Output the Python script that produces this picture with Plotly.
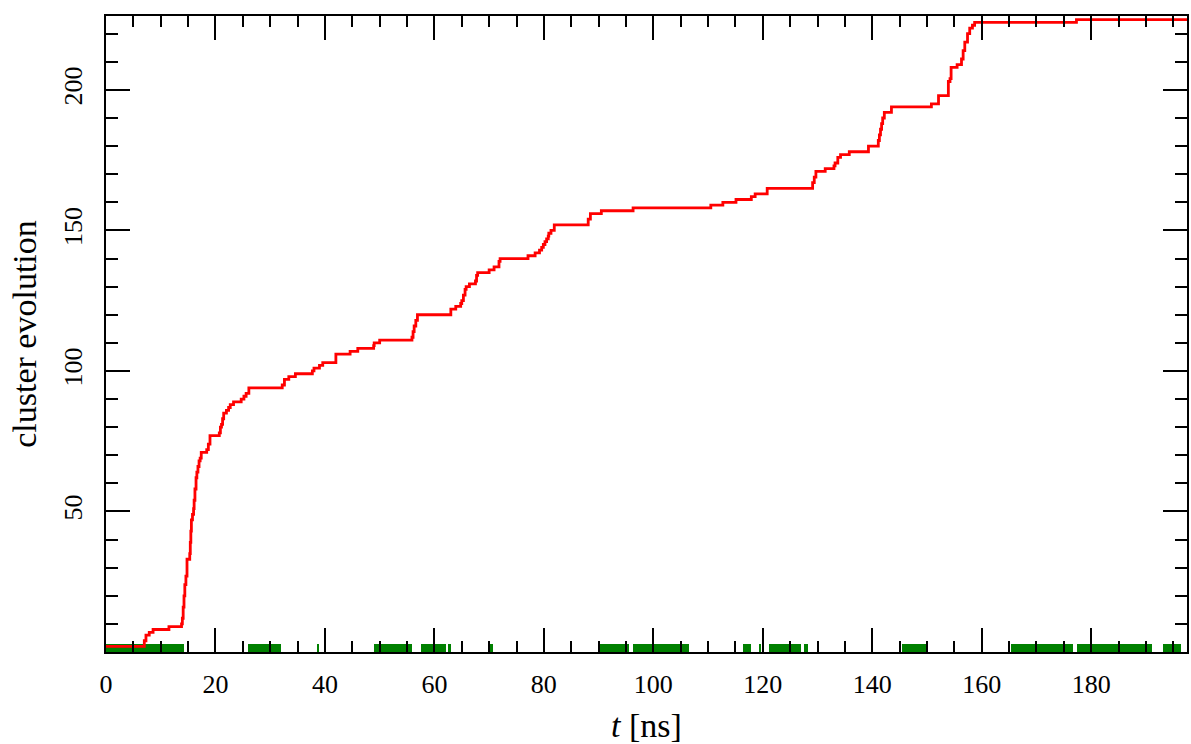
import plotly.graph_objects as go

# Cluster count over time (step function)
t_ns = [
    0.0, 7.0, 7.3, 7.9, 8.6, 11.5, 13.8, 13.95, 14.1, 14.25, 14.4, 14.6, 14.8,
    15.3, 15.4, 15.5, 15.6, 15.8, 16.0, 16.1, 16.25, 16.45, 16.6, 16.8, 17.0,
    17.2, 17.4, 18.4, 18.7, 19.0, 20.7, 20.9, 21.1, 21.3, 21.5, 22.0, 22.4,
    22.7, 23.3, 24.7, 25.2, 25.6, 26.1,
    32.2, 32.6, 33.4, 34.6, 37.7, 38.0, 39.0, 39.6, 42.0, 44.6, 46.0, 48.9,
    49.0, 50.0, 55.9, 56.1, 56.3, 56.6, 56.9, 63.0, 63.9, 64.8, 65.0, 65.3,
    65.6, 65.8, 66.4, 67.5, 67.7, 67.9, 70.0, 70.9, 71.8, 72.0, 77.1, 78.4,
    79.2, 79.6, 79.9, 80.2, 80.5, 80.8, 80.9, 81.3, 81.9, 88.1, 88.5, 90.5,
    96.3,
    110.5, 112.7, 115.1, 117.9, 118.6, 120.8, 129.1, 129.4, 129.7, 131.4,
    133.0, 133.2, 133.7, 134.2, 135.8, 139.3, 141.1, 141.3, 141.5, 141.7,
    141.9, 142.2, 143.5, 150.8, 152.1, 153.9, 154.2, 154.4, 155.5, 156.3,
    156.6, 156.9, 157.4, 157.8, 158.3, 158.7, 177.3, 197.5,
]
cluster_count = [
    2, 4, 6, 7, 8, 9, 10, 12, 16, 20, 24, 27, 33,
    35, 39, 43, 47, 49, 51, 54, 58, 62, 64, 66, 68,
    69, 71, 72, 74, 77, 78, 80, 81, 83, 85, 86, 87,
    88, 89, 90, 91, 92, 94,
    95, 97, 98, 99, 100, 101, 102, 103, 106, 107, 108, 109,
    110, 111, 112, 114, 116, 118, 120, 122, 123, 124, 125, 127,
    129, 130, 131, 132, 134, 135, 136, 137, 139, 140, 141, 142,
    143, 144, 145, 146, 147, 148, 149, 150, 152, 154, 156, 157,
    158,
    159, 160, 161, 162, 163, 165, 167, 169, 171, 172,
    173, 174, 176, 177, 178, 180, 182, 184, 186, 188,
    190, 192, 194, 195, 198, 203, 204, 208, 209, 211,
    214, 217, 220, 222, 223, 224, 225, 225,
]

# Time intervals marked along the bottom of the axis
interval_start = [0.0, 25.9, 38.6, 48.9, 57.6, 62.4, 70.1, 90.1, 96.3, 116.4,
                  119.4, 121.1, 127.6, 145.5, 165.3, 177.4, 193.1]
interval_end = [14.2, 31.9, 39.0, 55.9, 62.2, 63.0, 70.7, 95.5, 106.5, 117.8,
                119.7, 127.0, 128.2, 150.0, 176.7, 191.1, 196.4]

x_tick_vals = [0, 20, 40, 60, 80, 100, 120, 140, 160, 180]
y_tick_vals = [50, 100, 150, 200]

SERIF = "Liberation Serif, DejaVu Serif, serif"
BAND_HEIGHT = 3

centers = [(a + b) / 2 for a, b in zip(interval_start, interval_end)]
widths = [b - a for a, b in zip(interval_start, interval_end)]

fig = go.Figure()
fig.add_trace(go.Bar(
    x=centers, y=[BAND_HEIGHT] * len(centers), width=widths, base=0,
    marker=dict(color="green", line_width=0), showlegend=False,
    hoverinfo="skip",
))
fig.add_trace(go.Scatter(
    x=t_ns, y=cluster_count, mode="lines",
    line=dict(color="red", width=2.8, shape="hv"), showlegend=False,
))

axis_common = dict(
    showline=True, linewidth=2, linecolor="black", mirror="allticks",
    ticks="inside", tickwidth=2, tickcolor="black", ticklen=24,
    showgrid=False, zeroline=False,
    tickfont=dict(family=SERIF, size=26, color="black"),
)

fig.update_layout(
    width=1191, height=744,
    margin=dict(l=106, r=2, t=16, b=85),
    paper_bgcolor="white", plot_bgcolor="white",
    bargap=0,
    xaxis=dict(
        **axis_common,
        range=[0, 197.5],
        tickmode="array", tickvals=x_tick_vals,
        ticklabelstandoff=8,
        minor=dict(dtick=5, tick0=0, ticks="inside", ticklen=11,
                   tickwidth=2, tickcolor="black", showgrid=False),
        title=dict(text="<i>t</i> [ns]",
                   font=dict(family=SERIF, size=34, color="black"),
                   standoff=19),
    ),
    yaxis=dict(
        **axis_common,
        range=[0, 226.3],
        tickmode="array", tickvals=y_tick_vals,
        tickangle=-90,
        ticklabelstandoff=12,
        minor=dict(dtick=10, tick0=0, ticks="inside", ticklen=12,
                   tickwidth=2, tickcolor="black", showgrid=False),
        title=dict(text="cluster evolution",
                   font=dict(family=SERIF, size=34, color="black"),
                   standoff=12),
    ),
)

fig.write_html("out.html")
